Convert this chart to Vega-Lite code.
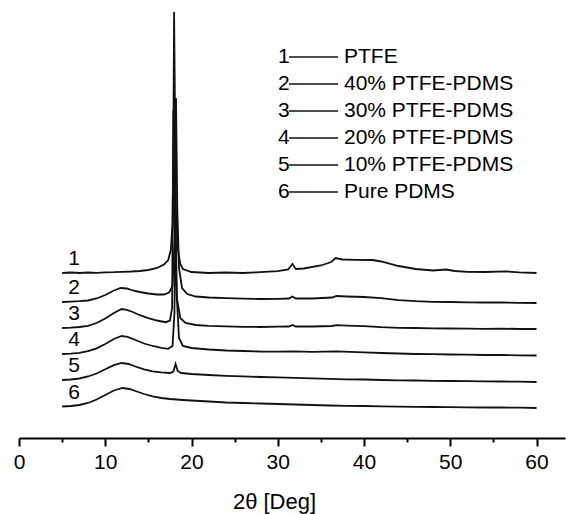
{
  "$schema": "https://vega.github.io/schema/vega-lite/v6.json",
  "width": 546,
  "height": 438,
  "autosize": {"type": "none"},
  "padding": {"left": 19, "top": 0, "right": 7, "bottom": 76},
  "background": "white",
  "config": {"view": {"stroke": null}, "font": "Liberation Sans"},
  "data": {"values": [
    {"n":1,"s":"PTFE","x":5,"y":165},{"n":1,"s":"PTFE","x":6,"y":165.5},{"n":1,"s":"PTFE","x":7,"y":165},{"n":1,"s":"PTFE","x":8,"y":165.5},{"n":1,"s":"PTFE","x":9,"y":165.2},{"n":1,"s":"PTFE","x":10,"y":165.6},{"n":1,"s":"PTFE","x":11,"y":165.8},{"n":1,"s":"PTFE","x":12,"y":166.2},{"n":1,"s":"PTFE","x":13,"y":166.5},{"n":1,"s":"PTFE","x":14,"y":167},{"n":1,"s":"PTFE","x":15,"y":168},{"n":1,"s":"PTFE","x":16,"y":170},{"n":1,"s":"PTFE","x":16.8,"y":173.5},{"n":1,"s":"PTFE","x":17.3,"y":178},{"n":1,"s":"PTFE","x":17.6,"y":188},{"n":1,"s":"PTFE","x":17.8,"y":215},{"n":1,"s":"PTFE","x":17.9,"y":300},{"n":1,"s":"PTFE","x":17.98,"y":426},{"n":1,"s":"PTFE","x":18.08,"y":330},{"n":1,"s":"PTFE","x":18.2,"y":230},{"n":1,"s":"PTFE","x":18.4,"y":190},{"n":1,"s":"PTFE","x":18.7,"y":174},{"n":1,"s":"PTFE","x":19,"y":169},{"n":1,"s":"PTFE","x":20,"y":166},{"n":1,"s":"PTFE","x":22,"y":165},{"n":1,"s":"PTFE","x":24,"y":165.5},{"n":1,"s":"PTFE","x":26,"y":165},{"n":1,"s":"PTFE","x":28,"y":165.8},{"n":1,"s":"PTFE","x":30,"y":166.8},{"n":1,"s":"PTFE","x":31.2,"y":168.5},{"n":1,"s":"PTFE","x":31.7,"y":174},{"n":1,"s":"PTFE","x":32.1,"y":169},{"n":1,"s":"PTFE","x":33,"y":169.5},{"n":1,"s":"PTFE","x":35,"y":172.5},{"n":1,"s":"PTFE","x":36.2,"y":176},{"n":1,"s":"PTFE","x":36.7,"y":180},{"n":1,"s":"PTFE","x":37.5,"y":178.5},{"n":1,"s":"PTFE","x":39,"y":178.2},{"n":1,"s":"PTFE","x":41,"y":178},{"n":1,"s":"PTFE","x":42,"y":176.5},{"n":1,"s":"PTFE","x":44,"y":172},{"n":1,"s":"PTFE","x":46,"y":169},{"n":1,"s":"PTFE","x":48,"y":167.5},{"n":1,"s":"PTFE","x":49.5,"y":168.5},{"n":1,"s":"PTFE","x":50.5,"y":167},{"n":1,"s":"PTFE","x":52,"y":166.2},{"n":1,"s":"PTFE","x":54,"y":166},{"n":1,"s":"PTFE","x":56.5,"y":166.6},{"n":1,"s":"PTFE","x":58,"y":165.6},{"n":1,"s":"PTFE","x":60,"y":165},
    {"n":2,"s":"40% PTFE-PDMS","x":5,"y":136},{"n":2,"s":"40% PTFE-PDMS","x":6,"y":136.4},{"n":2,"s":"40% PTFE-PDMS","x":7,"y":136.8},{"n":2,"s":"40% PTFE-PDMS","x":8,"y":137.5},{"n":2,"s":"40% PTFE-PDMS","x":9,"y":139.5},{"n":2,"s":"40% PTFE-PDMS","x":10,"y":143},{"n":2,"s":"40% PTFE-PDMS","x":11,"y":147.5},{"n":2,"s":"40% PTFE-PDMS","x":11.8,"y":150},{"n":2,"s":"40% PTFE-PDMS","x":12.5,"y":149.5},{"n":2,"s":"40% PTFE-PDMS","x":13.2,"y":147.5},{"n":2,"s":"40% PTFE-PDMS","x":14,"y":146},{"n":2,"s":"40% PTFE-PDMS","x":15,"y":144.5},{"n":2,"s":"40% PTFE-PDMS","x":16,"y":143.5},{"n":2,"s":"40% PTFE-PDMS","x":16.8,"y":143.5},{"n":2,"s":"40% PTFE-PDMS","x":17.4,"y":145.5},{"n":2,"s":"40% PTFE-PDMS","x":17.8,"y":152},{"n":2,"s":"40% PTFE-PDMS","x":18.05,"y":200},{"n":2,"s":"40% PTFE-PDMS","x":18.2,"y":340},{"n":2,"s":"40% PTFE-PDMS","x":18.35,"y":230},{"n":2,"s":"40% PTFE-PDMS","x":18.55,"y":170},{"n":2,"s":"40% PTFE-PDMS","x":18.9,"y":150},{"n":2,"s":"40% PTFE-PDMS","x":19.5,"y":144},{"n":2,"s":"40% PTFE-PDMS","x":20.5,"y":141.5},{"n":2,"s":"40% PTFE-PDMS","x":22,"y":140.5},{"n":2,"s":"40% PTFE-PDMS","x":24,"y":139.8},{"n":2,"s":"40% PTFE-PDMS","x":26,"y":139.3},{"n":2,"s":"40% PTFE-PDMS","x":28,"y":139},{"n":2,"s":"40% PTFE-PDMS","x":30,"y":139.2},{"n":2,"s":"40% PTFE-PDMS","x":31.3,"y":139.5},{"n":2,"s":"40% PTFE-PDMS","x":31.7,"y":141.5},{"n":2,"s":"40% PTFE-PDMS","x":32.1,"y":139.5},{"n":2,"s":"40% PTFE-PDMS","x":34,"y":139.5},{"n":2,"s":"40% PTFE-PDMS","x":36.3,"y":140.5},{"n":2,"s":"40% PTFE-PDMS","x":36.8,"y":142},{"n":2,"s":"40% PTFE-PDMS","x":38,"y":141.5},{"n":2,"s":"40% PTFE-PDMS","x":40,"y":141},{"n":2,"s":"40% PTFE-PDMS","x":42,"y":139.8},{"n":2,"s":"40% PTFE-PDMS","x":44,"y":137.8},{"n":2,"s":"40% PTFE-PDMS","x":46,"y":136.8},{"n":2,"s":"40% PTFE-PDMS","x":48,"y":136.2},{"n":2,"s":"40% PTFE-PDMS","x":50,"y":136},{"n":2,"s":"40% PTFE-PDMS","x":52,"y":135.6},{"n":2,"s":"40% PTFE-PDMS","x":54,"y":135.5},{"n":2,"s":"40% PTFE-PDMS","x":56,"y":135.6},{"n":2,"s":"40% PTFE-PDMS","x":58,"y":135.2},{"n":2,"s":"40% PTFE-PDMS","x":60,"y":135},
    {"n":3,"s":"30% PTFE-PDMS","x":5,"y":110},{"n":3,"s":"30% PTFE-PDMS","x":6,"y":110.4},{"n":3,"s":"30% PTFE-PDMS","x":7,"y":111},{"n":3,"s":"30% PTFE-PDMS","x":8,"y":112.2},{"n":3,"s":"30% PTFE-PDMS","x":9,"y":115},{"n":3,"s":"30% PTFE-PDMS","x":10,"y":119.5},{"n":3,"s":"30% PTFE-PDMS","x":11,"y":125},{"n":3,"s":"30% PTFE-PDMS","x":11.9,"y":129},{"n":3,"s":"30% PTFE-PDMS","x":12.5,"y":128.2},{"n":3,"s":"30% PTFE-PDMS","x":13.2,"y":126},{"n":3,"s":"30% PTFE-PDMS","x":14,"y":122.8},{"n":3,"s":"30% PTFE-PDMS","x":15,"y":119.8},{"n":3,"s":"30% PTFE-PDMS","x":16,"y":117.5},{"n":3,"s":"30% PTFE-PDMS","x":17,"y":115.8},{"n":3,"s":"30% PTFE-PDMS","x":17.5,"y":117.5},{"n":3,"s":"30% PTFE-PDMS","x":17.75,"y":130},{"n":3,"s":"30% PTFE-PDMS","x":17.9,"y":328},{"n":3,"s":"30% PTFE-PDMS","x":18.05,"y":210},{"n":3,"s":"30% PTFE-PDMS","x":18.3,"y":140},{"n":3,"s":"30% PTFE-PDMS","x":18.7,"y":120},{"n":3,"s":"30% PTFE-PDMS","x":19.3,"y":115},{"n":3,"s":"30% PTFE-PDMS","x":20.5,"y":113},{"n":3,"s":"30% PTFE-PDMS","x":22,"y":112.2},{"n":3,"s":"30% PTFE-PDMS","x":24,"y":111.6},{"n":3,"s":"30% PTFE-PDMS","x":26,"y":111.2},{"n":3,"s":"30% PTFE-PDMS","x":28,"y":111},{"n":3,"s":"30% PTFE-PDMS","x":30,"y":111.3},{"n":3,"s":"30% PTFE-PDMS","x":31.3,"y":111.5},{"n":3,"s":"30% PTFE-PDMS","x":31.7,"y":113},{"n":3,"s":"30% PTFE-PDMS","x":32.1,"y":111.5},{"n":3,"s":"30% PTFE-PDMS","x":34,"y":111.5},{"n":3,"s":"30% PTFE-PDMS","x":36.3,"y":112},{"n":3,"s":"30% PTFE-PDMS","x":36.8,"y":112.8},{"n":3,"s":"30% PTFE-PDMS","x":38,"y":112.3},{"n":3,"s":"30% PTFE-PDMS","x":40,"y":111.8},{"n":3,"s":"30% PTFE-PDMS","x":42,"y":110.8},{"n":3,"s":"30% PTFE-PDMS","x":44,"y":110.2},{"n":3,"s":"30% PTFE-PDMS","x":46,"y":110},{"n":3,"s":"30% PTFE-PDMS","x":48,"y":109.6},{"n":3,"s":"30% PTFE-PDMS","x":50,"y":109.5},{"n":3,"s":"30% PTFE-PDMS","x":52,"y":109.4},{"n":3,"s":"30% PTFE-PDMS","x":54,"y":109.2},{"n":3,"s":"30% PTFE-PDMS","x":56,"y":109.4},{"n":3,"s":"30% PTFE-PDMS","x":58,"y":109},{"n":3,"s":"30% PTFE-PDMS","x":60,"y":109},
    {"n":4,"s":"20% PTFE-PDMS","x":5,"y":84},{"n":4,"s":"20% PTFE-PDMS","x":6,"y":84.4},{"n":4,"s":"20% PTFE-PDMS","x":7,"y":85.2},{"n":4,"s":"20% PTFE-PDMS","x":8,"y":86.8},{"n":4,"s":"20% PTFE-PDMS","x":9,"y":89.6},{"n":4,"s":"20% PTFE-PDMS","x":10,"y":94},{"n":4,"s":"20% PTFE-PDMS","x":11,"y":99},{"n":4,"s":"20% PTFE-PDMS","x":11.9,"y":102},{"n":4,"s":"20% PTFE-PDMS","x":12.6,"y":101.2},{"n":4,"s":"20% PTFE-PDMS","x":13.5,"y":98},{"n":4,"s":"20% PTFE-PDMS","x":14.5,"y":94.5},{"n":4,"s":"20% PTFE-PDMS","x":15.5,"y":92},{"n":4,"s":"20% PTFE-PDMS","x":16.5,"y":90.2},{"n":4,"s":"20% PTFE-PDMS","x":17.3,"y":89.2},{"n":4,"s":"20% PTFE-PDMS","x":17.8,"y":92},{"n":4,"s":"20% PTFE-PDMS","x":18.02,"y":125},{"n":4,"s":"20% PTFE-PDMS","x":18.15,"y":231},{"n":4,"s":"20% PTFE-PDMS","x":18.3,"y":140},{"n":4,"s":"20% PTFE-PDMS","x":18.55,"y":100},{"n":4,"s":"20% PTFE-PDMS","x":19,"y":92},{"n":4,"s":"20% PTFE-PDMS","x":20,"y":90},{"n":4,"s":"20% PTFE-PDMS","x":22,"y":88.5},{"n":4,"s":"20% PTFE-PDMS","x":24,"y":87.5},{"n":4,"s":"20% PTFE-PDMS","x":26,"y":87},{"n":4,"s":"20% PTFE-PDMS","x":28,"y":86.5},{"n":4,"s":"20% PTFE-PDMS","x":30,"y":86.4},{"n":4,"s":"20% PTFE-PDMS","x":31.7,"y":86.6},{"n":4,"s":"20% PTFE-PDMS","x":34,"y":86.2},{"n":4,"s":"20% PTFE-PDMS","x":36.8,"y":86.6},{"n":4,"s":"20% PTFE-PDMS","x":40,"y":85.6},{"n":4,"s":"20% PTFE-PDMS","x":42,"y":85},{"n":4,"s":"20% PTFE-PDMS","x":44,"y":84.5},{"n":4,"s":"20% PTFE-PDMS","x":46,"y":84},{"n":4,"s":"20% PTFE-PDMS","x":48,"y":83.8},{"n":4,"s":"20% PTFE-PDMS","x":50,"y":83.5},{"n":4,"s":"20% PTFE-PDMS","x":52,"y":83.4},{"n":4,"s":"20% PTFE-PDMS","x":54,"y":83},{"n":4,"s":"20% PTFE-PDMS","x":56,"y":83},{"n":4,"s":"20% PTFE-PDMS","x":58,"y":82.6},{"n":4,"s":"20% PTFE-PDMS","x":60,"y":82.5},
    {"n":5,"s":"10% PTFE-PDMS","x":5,"y":58},{"n":5,"s":"10% PTFE-PDMS","x":6,"y":58.5},{"n":5,"s":"10% PTFE-PDMS","x":7,"y":59.5},{"n":5,"s":"10% PTFE-PDMS","x":8,"y":61.5},{"n":5,"s":"10% PTFE-PDMS","x":9,"y":64.5},{"n":5,"s":"10% PTFE-PDMS","x":10,"y":68.8},{"n":5,"s":"10% PTFE-PDMS","x":11,"y":72.8},{"n":5,"s":"10% PTFE-PDMS","x":11.9,"y":75},{"n":5,"s":"10% PTFE-PDMS","x":12.7,"y":74},{"n":5,"s":"10% PTFE-PDMS","x":13.5,"y":71.5},{"n":5,"s":"10% PTFE-PDMS","x":14.5,"y":68.6},{"n":5,"s":"10% PTFE-PDMS","x":15.5,"y":66.6},{"n":5,"s":"10% PTFE-PDMS","x":16.5,"y":65.6},{"n":5,"s":"10% PTFE-PDMS","x":17.5,"y":65},{"n":5,"s":"10% PTFE-PDMS","x":17.9,"y":66.5},{"n":5,"s":"10% PTFE-PDMS","x":18.15,"y":74},{"n":5,"s":"10% PTFE-PDMS","x":18.4,"y":67},{"n":5,"s":"10% PTFE-PDMS","x":18.8,"y":65},{"n":5,"s":"10% PTFE-PDMS","x":20,"y":64},{"n":5,"s":"10% PTFE-PDMS","x":22,"y":63},{"n":5,"s":"10% PTFE-PDMS","x":24,"y":62.2},{"n":5,"s":"10% PTFE-PDMS","x":26,"y":61.6},{"n":5,"s":"10% PTFE-PDMS","x":28,"y":61},{"n":5,"s":"10% PTFE-PDMS","x":30,"y":60.6},{"n":5,"s":"10% PTFE-PDMS","x":32,"y":60.2},{"n":5,"s":"10% PTFE-PDMS","x":34,"y":59.6},{"n":5,"s":"10% PTFE-PDMS","x":36,"y":59.2},{"n":5,"s":"10% PTFE-PDMS","x":38,"y":58.7},{"n":5,"s":"10% PTFE-PDMS","x":40,"y":58.5},{"n":5,"s":"10% PTFE-PDMS","x":42,"y":58},{"n":5,"s":"10% PTFE-PDMS","x":44,"y":57.6},{"n":5,"s":"10% PTFE-PDMS","x":46,"y":57.5},{"n":5,"s":"10% PTFE-PDMS","x":48,"y":57.1},{"n":5,"s":"10% PTFE-PDMS","x":50,"y":57},{"n":5,"s":"10% PTFE-PDMS","x":52,"y":56.9},{"n":5,"s":"10% PTFE-PDMS","x":54,"y":56.6},{"n":5,"s":"10% PTFE-PDMS","x":56,"y":56.5},{"n":5,"s":"10% PTFE-PDMS","x":58,"y":56.4},{"n":5,"s":"10% PTFE-PDMS","x":60,"y":56},
    {"n":6,"s":"Pure PDMS","x":5,"y":31.5},{"n":6,"s":"Pure PDMS","x":6,"y":32},{"n":6,"s":"Pure PDMS","x":7,"y":33},{"n":6,"s":"Pure PDMS","x":8,"y":35},{"n":6,"s":"Pure PDMS","x":9,"y":38.5},{"n":6,"s":"Pure PDMS","x":10,"y":43},{"n":6,"s":"Pure PDMS","x":11,"y":47.5},{"n":6,"s":"Pure PDMS","x":12,"y":50},{"n":6,"s":"Pure PDMS","x":12.8,"y":49},{"n":6,"s":"Pure PDMS","x":13.5,"y":47},{"n":6,"s":"Pure PDMS","x":14.5,"y":44},{"n":6,"s":"Pure PDMS","x":15.5,"y":41.6},{"n":6,"s":"Pure PDMS","x":16.5,"y":40},{"n":6,"s":"Pure PDMS","x":17.5,"y":39},{"n":6,"s":"Pure PDMS","x":19,"y":38},{"n":6,"s":"Pure PDMS","x":20,"y":37.5},{"n":6,"s":"Pure PDMS","x":22,"y":36.5},{"n":6,"s":"Pure PDMS","x":24,"y":35.5},{"n":6,"s":"Pure PDMS","x":26,"y":35},{"n":6,"s":"Pure PDMS","x":28,"y":34.5},{"n":6,"s":"Pure PDMS","x":30,"y":34},{"n":6,"s":"Pure PDMS","x":32,"y":33.5},{"n":6,"s":"Pure PDMS","x":34,"y":33},{"n":6,"s":"Pure PDMS","x":36,"y":32.5},{"n":6,"s":"Pure PDMS","x":38,"y":32.1},{"n":6,"s":"Pure PDMS","x":40,"y":32},{"n":6,"s":"Pure PDMS","x":42,"y":31.6},{"n":6,"s":"Pure PDMS","x":44,"y":31.4},{"n":6,"s":"Pure PDMS","x":46,"y":31.1},{"n":6,"s":"Pure PDMS","x":48,"y":31},{"n":6,"s":"Pure PDMS","x":50,"y":30.9},{"n":6,"s":"Pure PDMS","x":52,"y":30.6},{"n":6,"s":"Pure PDMS","x":54,"y":30.5},{"n":6,"s":"Pure PDMS","x":56,"y":30.5},{"n":6,"s":"Pure PDMS","x":58,"y":30.4},{"n":6,"s":"Pure PDMS","x":60,"y":30}
  ]},
  "layer": [
    {
      "mark": {"type": "line", "strokeWidth": 1.8, "interpolate": "linear"},
      "encoding": {
        "x": {"field": "x", "type": "quantitative",
          "scale": {"domain": [0, 63.3], "nice": false, "zero": false},
          "axis": {
            "values": [0,5,10,15,20,25,30,35,40,45,50,55,60],
            "labelExpr": "datum.value % 10 === 0 ? datum.label : ''",
            "tickSize": {"condition": {"test": "datum.value % 10 !== 0", "value": 4}, "value": 8},
            "tickWidth": 2, "tickColor": "black",
            "domainColor": "black", "domainWidth": 2,
            "grid": false, "labelFlush": false, "labelOverlap": false,
            "labelFont": "Liberation Sans", "labelFontSize": 21, "labelColor": "black", "labelPadding": 5,
            "title": "2θ [Deg]", "titleFont": "Liberation Sans", "titleFontSize": 22, "titleFontWeight": "normal",
            "titleColor": "black", "titleX": 255, "titleY": 70, "titleAlign": "center", "titleBaseline": "alphabetic"
          }},
        "y": {"field": "y", "type": "quantitative", "scale": {"domain": [0, 438], "nice": false, "zero": false}, "axis": null},
        "detail": {"field": "n", "type": "nominal"},
        "color": {"field": "s", "type": "nominal",
          "scale": {"domain": ["PTFE","40% PTFE-PDMS","30% PTFE-PDMS","20% PTFE-PDMS","10% PTFE-PDMS","Pure PDMS"],
                    "range": ["#111111","#111111","#111111","#111111","#111111","#111111"]},
          "legend": {"orient": "none", "legendX": 269, "legendY": 43.7, "title": null, "padding": 0,
            "symbolType": "stroke", "symbolSize": 2401, "symbolStrokeWidth": 1.5, "labelLimit": 0,
            "clipHeight": 26.6, "rowPadding": 0,
            "labelFont": "Liberation Sans", "labelFontSize": 21, "labelColor": "black", "labelOffset": 5}},
        "opacity": {"field": "n", "type": "nominal",
          "scale": {"domain": [1,2,3,4,5,6], "range": [1,1,1,1,1,1]},
          "legend": {"orient": "none", "legendX": 238, "legendY": 43.7, "title": null, "padding": 0,
            "symbolSize": 0, "symbolOpacity": 0, "symbolStrokeWidth": 0,
            "clipHeight": 26.6, "rowPadding": 0,
            "labelFont": "Liberation Sans", "labelFontSize": 21, "labelColor": "black", "labelOffset": 0}}
      }
    },
    {
      "transform": [{"filter": "datum.x === 5"}],
      "mark": {"type": "text", "dx": 12, "dy": -14, "align": "center", "baseline": "middle", "fontSize": 21, "font": "Liberation Sans", "color": "black"},
      "encoding": {
        "x": {"field": "x", "type": "quantitative"},
        "y": {"field": "y", "type": "quantitative"},
        "text": {"field": "n", "type": "nominal"}
      }
    }
  ]
}
